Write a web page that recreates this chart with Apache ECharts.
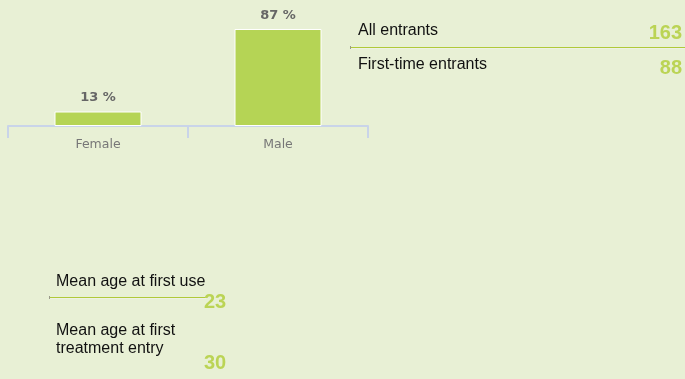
<!DOCTYPE html>
<html>
<head>
<meta charset="utf-8">
<script src="https://cdn.jsdelivr.net/npm/echarts@6/dist/echarts.min.js"></script>
<style>
  html, body { margin: 0; padding: 0; background: #e8f0d5; }
  #chart { width: 685px; height: 379px; }
</style>
</head>
<body>
<div id="chart"></div>
<script>
// Gender split of treatment entrants
const categories = ['Female', 'Male'];
const shares = [13, 87];

// Entrant counts
const entrantLabels = ['All entrants', 'First-time entrants'];
const entrantCounts = [163, 88];

// Mean ages
const ageLabels = ['Mean age at first use', 'Mean age at first\ntreatment entry'];
const ageValues = [23, 30];

const GREEN = '#b5d455';
const NUM_GREEN = '#bbd455';
const TEXT = '#111111';
const RULE = '#b0c93a';

const chart = echarts.init(document.getElementById('chart'), null, { renderer: 'canvas' });

function labelText(x, y, text, extra) {
  return {
    type: 'text', x: x, y: y, silent: true,
    style: Object.assign({
      text: text, fill: TEXT,
      font: '16px "Liberation Sans", Arial, sans-serif',
      verticalAlign: 'middle', align: 'left'
    }, extra || {})
  };
}
function numText(x, y, value, align) {
  return {
    type: 'text', x: x, y: y, silent: true,
    style: {
      text: String(value), fill: NUM_GREEN,
      font: 'bold 20px "Liberation Sans", Arial, sans-serif',
      verticalAlign: 'middle', align: align
    }
  };
}
// thin separator: green hairline with a pale highlight underneath and a dark end tick
function rule(x1, x2, y) {
  return [
    { type: 'rect', silent: true, shape: { x: x1, y: y + 1, width: x2 - x1, height: 1 },
      style: { fill: '#eef1e6' } },
    { type: 'rect', silent: true, shape: { x: x1, y: y, width: x2 - x1, height: 1 },
      style: { fill: RULE } },
    { type: 'rect', silent: true, shape: { x: x1, y: y - 1, width: 1, height: 3 },
      style: { fill: '#9a9a8a' } }
  ];
}

const graphics = [
  labelText(358, 31, entrantLabels[0]),
  numText(682, 33.5, entrantCounts[0], 'right'),
  ...rule(350, 685, 47),
  labelText(358, 65, entrantLabels[1]),
  numText(682, 68, entrantCounts[1], 'right'),

  labelText(56, 281.5, ageLabels[0]),
  ...rule(49, 206, 297),
  numText(204, 302, ageValues[0], 'left'),
  labelText(56, 340, ageLabels[1], { lineHeight: 18 }),
  numText(204, 363.5, ageValues[1], 'left')
];

chart.setOption({
  backgroundColor: '#e8f0d5',
  animation: false,
  grid: { left: 8, right: 317, top: 14.5, height: 111.5, containLabel: false },
  xAxis: {
    type: 'category',
    data: categories,
    axisLine: { lineStyle: { color: '#c9d4e9', width: 2 } },
    axisTick: { show: true, length: 12, lineStyle: { color: '#c9d4e9', width: 2 } },
    axisLabel: {
      color: '#777777', fontSize: 12.5, margin: 12,
      fontFamily: '"DejaVu Sans", sans-serif'
    }
  },
  yAxis: {
    type: 'value', min: 0, max: 100,
    show: false, splitLine: { show: false }
  },
  series: [{
    type: 'bar',
    data: shares,
    barWidth: 87,
    itemStyle: { color: GREEN, borderColor: '#ffffff', borderWidth: 1 },
    label: {
      show: true, position: 'top', distance: 7,
      formatter: p => p.value + ' %',
      color: '#666666', fontWeight: 'bold', fontSize: 13,
      fontFamily: '"DejaVu Sans", sans-serif'
    }
  }],
  graphic: graphics
});
</script>
</body>
</html>
